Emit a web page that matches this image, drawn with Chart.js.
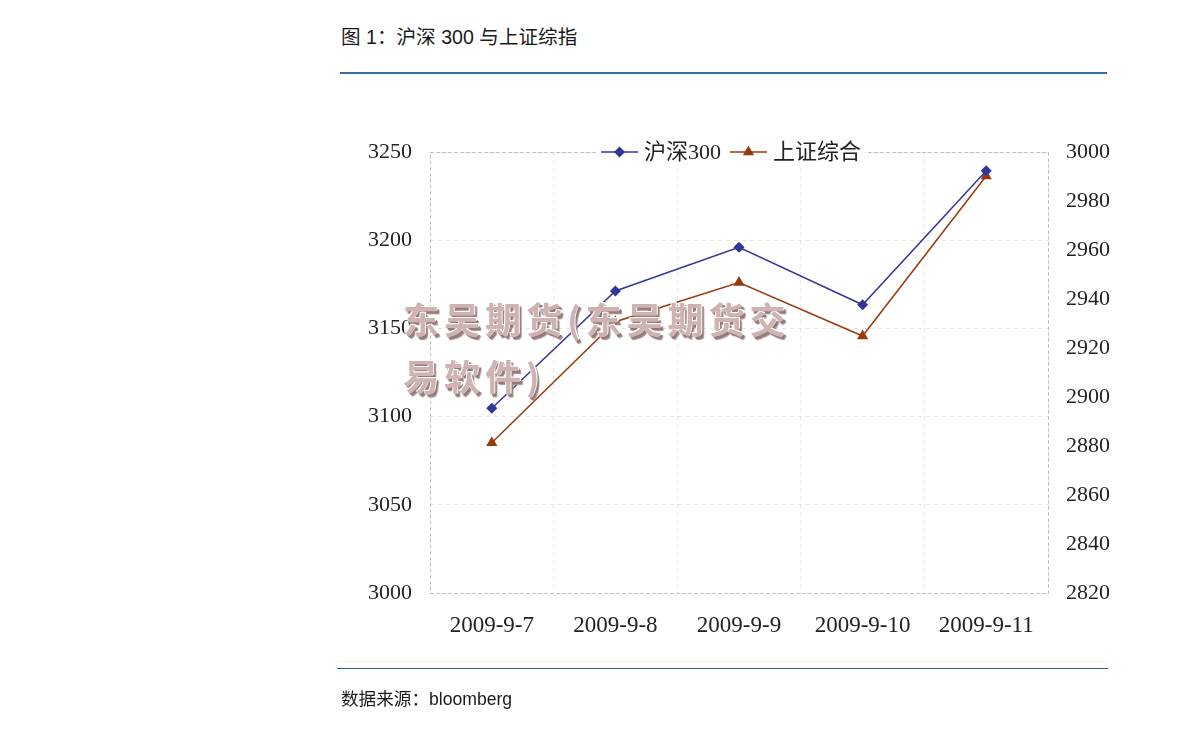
<!DOCTYPE html>
<html>
<head>
<meta charset="utf-8">
<script src="https://cdn.jsdelivr.net/npm/chart.js@4/dist/chart.umd.min.js"></script>
<style>
  html, body { margin: 0; padding: 0; background: #fff; }
  #page { position: relative; width: 1190px; height: 730px; overflow: hidden; }
  #chartBox { position: absolute; left: 0; top: 0; width: 1190px; height: 730px; }
  .title { position: absolute; left: 341px; top: 21px; font: 19.6px "Liberation Sans", "Noto Sans CJK SC", sans-serif; color: #1a1a1a; }
  .rule { position: absolute; height: 0; }
  .source { position: absolute; left: 341px; top: 685px; font: 17.6px "Liberation Sans", "Noto Sans CJK SC", sans-serif; color: #1a1a1a; }
  .mark { position: absolute; left: 403px; top: 290px; font: bold 36px "Noto Sans CJK SC", sans-serif;
          letter-spacing: 5px; line-height: 57px; color: #cfb3b3; z-index: 5;
          text-shadow: -1px -1px 0 #fff, 1px -1px 0 #fff, 2px 2px 0 #957a7a, 3px 3px 1px #a89090; }
</style>
</head>
<body>
<div id="page">
  <div class="title">图 1：沪深 300 与上证综指</div>
  <div class="rule" style="left:340px; top:72px; width:767px; border-top:2px solid #3d6f9c;"></div>
  <div id="chartBox"><canvas id="myChart" width="1190" height="730"></canvas></div>
  <div class="mark">东吴期货(东吴期货交<br>易软件)</div>
  <div class="rule" style="left:337px; top:661px; width:771px; border-top:1px solid #fbf3e2;"></div>
  <div class="rule" style="left:337px; top:668px; width:771px; border-top:1.5px solid #2b6291;"></div>
  <div class="source">数据来源：bloomberg</div>
</div>
<script>
// Data
var dates = ['2009-9-7', '2009-9-8', '2009-9-9', '2009-9-10', '2009-9-11'];
var hs300 = [3104.7, 3171.2, 3196.0, 3163.4, 3239.4];
var szzs = [2881.3, 2930.7, 2946.7, 2924.9, 2990.2];

var serif = '"Liberation Serif", "Noto Sans CJK SC", serif';

// Dashed frame round the plot area
var framePlugin = {
    id: 'frame',
    beforeDatasetsDraw: function (chart) {
        var a = chart.chartArea, ctx = chart.ctx;
        ctx.save();
        ctx.strokeStyle = '#b4b4c8';
        ctx.lineWidth = 1;
        ctx.setLineDash([3, 3]);
        ctx.strokeRect(a.left + 0.5, a.top + 0.5, a.right - a.left, a.bottom - a.top);
        ctx.restore();
    }
};

// Legend sitting on the top edge of the plot
var legendPlugin = {
    id: 'topLegend',
    afterDatasetsDraw: function (chart) {
        var ctx = chart.ctx;
        var a = chart.chartArea;
        var y = a.top;
        ctx.save();
        ctx.font = '22px ' + serif;
        ctx.textBaseline = 'middle';
        var items = chart.data.datasets;
        var seg = 37, gap = 6, between = 9;
        var total = 0;
        items.forEach(function (d, i) {
            total += seg + gap + ctx.measureText(d.label).width + (i < items.length - 1 ? between : 0);
        });
        var x = (a.left + a.right) / 2 - total / 2 - 8;
        ctx.fillStyle = '#fff';
        ctx.fillRect(x - 4, y - 12, total + 8, 24);
        items.forEach(function (d) {
            ctx.strokeStyle = d.borderColor;
            ctx.lineWidth = 1.5;
            ctx.beginPath();
            ctx.moveTo(x, y);
            ctx.lineTo(x + seg, y);
            ctx.stroke();
            Chart.helpers.drawPoint(ctx, {
                pointStyle: d.pointStyle, radius: d.pointRadius, borderWidth: 1
            }, x + seg / 2, y);
            ctx.fillStyle = d.pointBackgroundColor;
            ctx.strokeStyle = d.pointBackgroundColor;
            ctx.fill();
            x += seg + gap;
            ctx.fillStyle = '#222';
            ctx.fillText(d.label, x, y + 1);
            x += ctx.measureText(d.label).width + between;
        });
        ctx.restore();
    }
};

function plain(v) { return String(v); }

var ctx = document.getElementById('myChart').getContext('2d');
var myChart = new Chart(ctx, {
    type: 'line',
    data: {
        labels: dates,
        datasets: [{
            label: '沪深300',
            data: hs300,
            yAxisID: 'y',
            borderColor: '#34359a',
            backgroundColor: '#34359a',
            pointBackgroundColor: '#34359a',
            pointBorderColor: '#34359a',
            pointStyle: 'rectRot',
            pointRadius: 4.5,
            borderWidth: 1.5,
            tension: 0
        }, {
            label: '上证综合',
            data: szzs,
            yAxisID: 'y1',
            borderColor: '#9a3a0c',
            backgroundColor: '#9a3a0c',
            pointBackgroundColor: '#9a3a0c',
            pointBorderColor: '#9a3a0c',
            pointStyle: 'triangle',
            pointRadius: 5,
            borderWidth: 1.5,
            tension: 0
        }]
    },
    options: {
        responsive: false,
        animation: false,
        layout: { padding: { left: 340, top: 152, right: 42, bottom: 77 } },
        plugins: {
            legend: { display: false },
            tooltip: { enabled: false }
        },
        scales: {
            x: {
                offset: true,
                grid: { offset: true, color: '#e8e8ec', drawTicks: false },
                border: { display: false, dash: [4, 4] },
                ticks: { padding: 19, color: '#222', font: { family: serif, size: 23 } },
                afterFit: function (s) { s.height = 60; }
            },
            y: {
                position: 'left',
                min: 3000,
                max: 3250,
                grid: { color: '#e4e4e8', drawTicks: false },
                border: { display: false, dash: [4, 4] },
                ticks: { stepSize: 50, padding: 18, color: '#222', callback: plain, font: { family: serif, size: 22 } },
                afterFit: function (s) { s.width = 90; }
            },
            y1: {
                position: 'right',
                min: 2820,
                max: 3000,
                grid: { drawOnChartArea: false, drawTicks: false },
                border: { display: false },
                ticks: { stepSize: 20, padding: 18, color: '#222', callback: plain, font: { family: serif, size: 22 } },
                afterFit: function (s) { s.width = 100; }
            }
        }
    },
    plugins: [framePlugin, legendPlugin]
});
</script>
</body>
</html>
